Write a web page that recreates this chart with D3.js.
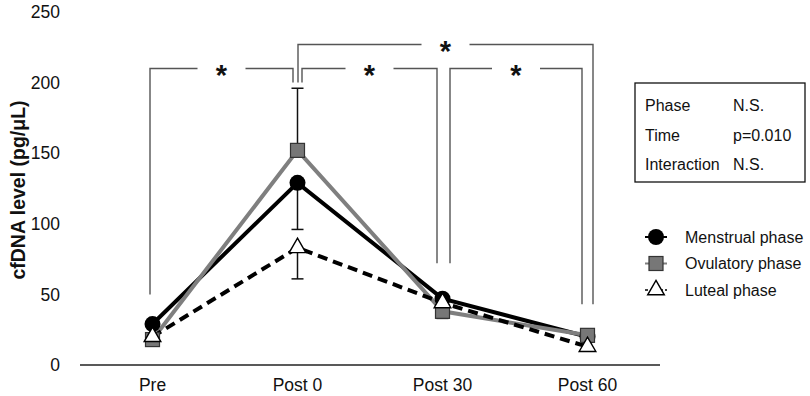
<!DOCTYPE html>
<html><head><meta charset="utf-8">
<script src="https://cdn.jsdelivr.net/npm/d3@7"></script>
<style>body{margin:0;background:#fff}svg{display:block;font-family:"Liberation Sans",Arial,sans-serif}</style>
</head><body><svg id="c" width="810" height="396"></svg>
<script>
const categories = ["Pre", "Post 0", "Post 30", "Post 60"];
const yTicks = [0, 50, 100, 150, 200, 250];
const menstrual = [29, 129, 47, 20];
const ovulatory = [18, 152, 38, 21];
const luteal = [20, 83, 44, 13];
// one-sided error bars (positive = upward, negative = downward)
const menstrualErr = [0, -33, 0, 0];
const ovulatoryErr = [0, 44, -5, 0];
const lutealErr = [0, -22, 0, 0];
const seriesNames = ["Menstrual phase", "Ovulatory phase", "Luteal phase"];
const statsRows = [["Phase", "N.S."], ["Time", "p=0.010"], ["Interaction", "N.S."]];
// brackets: [from index, to index, bracket level value, left leg end value, right leg end value]
const brackets = [
  [0, 1, 210, 50, 200],
  [1, 2, 210, 200, 72],
  [1, 3, 227, 200, 43],
  [2, 3, 210, 72, 43]
];

const svg = d3.select("#c");
const x = d3.scaleBand().domain(categories).range([80, 660]).padding(0);
const y = d3.scaleLinear().domain([0, 250]).range([365, 12]);
const cx = c => x(c) + x.bandwidth() / 2;

// x axis line
svg.append("line").attr("x1", 80).attr("x2", 660).attr("y1", y(0)).attr("y2", y(0))
  .attr("stroke", "#222").attr("stroke-width", 1.5);
svg.selectAll(".xl").data(categories).enter().append("text")
  .attr("x", d => cx(d)).attr("y", 391).attr("text-anchor", "middle")
  .attr("font-size", 17.5).attr("fill", "#111").text(d => d);
svg.selectAll(".yl").data(yTicks).enter().append("text")
  .attr("x", 60).attr("y", d => y(d)).attr("dy", "0.35em").attr("text-anchor", "end")
  .attr("font-size", 17.5).attr("fill", "#111").text(d => d);
svg.append("text").attr("transform", "translate(25,190) rotate(-90)")
  .attr("text-anchor", "middle").attr("font-size", 19.5).attr("font-weight", "bold")
  .attr("fill", "#111").text("cfDNA level (pg/μL)");

// brackets
const offs = [[-2.5, -4.5], [4.5, -5.5], [0.5, 5.5], [7.5, -5.5]];
brackets.forEach((b, i) => {
  const x1 = cx(categories[b[0]]) + offs[i][0], x2 = cx(categories[b[1]]) + offs[i][1];
  const yl = y(b[2]);
  const mid = (x1 + x2) / 2;
  const g = svg.append("g").attr("stroke", "#555").attr("stroke-width", 1.4).attr("fill", "none");
  g.append("path").attr("d", `M${x1},${y(b[3])}V${yl}H${mid - 24}`);
  g.append("path").attr("d", `M${mid + 24},${yl}H${x2}V${y(b[4])}`);
  svg.append("text").attr("x", mid).attr("y", yl + 17).attr("text-anchor", "middle")
    .attr("font-size", 29).attr("font-weight", "bold").attr("fill", "#111").text("*");
});

// error bars
function errBars(vals, errs) {
  vals.forEach((v, i) => {
    if (!errs[i]) return;
    const X = cx(categories[i]);
    svg.append("line").attr("x1", X).attr("x2", X).attr("y1", y(v)).attr("y2", y(v + errs[i]))
      .attr("stroke", "#111").attr("stroke-width", 1.5);
    svg.append("line").attr("x1", X - 6).attr("x2", X + 6).attr("y1", y(v + errs[i])).attr("y2", y(v + errs[i]))
      .attr("stroke", "#111").attr("stroke-width", 1.5);
  });
}
errBars(ovulatory, ovulatoryErr);
errBars(menstrual, menstrualErr);
errBars(luteal, lutealErr);

const line = d3.line().x((d, i) => cx(categories[i])).y(d => y(d));
svg.append("path").datum(menstrual).attr("d", line).attr("fill", "none").attr("stroke", "#000").attr("stroke-width", 4);
svg.append("path").datum(ovulatory).attr("d", line).attr("fill", "none").attr("stroke", "#7f7f7f").attr("stroke-width", 4);
svg.append("path").datum(luteal).attr("d", line).attr("fill", "none").attr("stroke", "#000").attr("stroke-width", 4).attr("stroke-dasharray", "10,6");

const tri = d3.symbol().type(d3.symbolTriangle).size(120);
function circ(g, X, Y) { g.append("circle").attr("cx", X).attr("cy", Y).attr("r", 8).attr("fill", "#000"); }
function sq(g, X, Y) { g.append("rect").attr("x", X - 7).attr("y", Y - 7).attr("width", 14).attr("height", 14).attr("fill", "#777").attr("stroke", "#333").attr("stroke-width", 1.2); }
function tr(g, X, Y) { g.append("path").attr("d", tri()).attr("transform", `translate(${X},${Y})`).attr("fill", "#fff").attr("stroke", "#000").attr("stroke-width", 1.4); }
menstrual.forEach((v, i) => circ(svg, cx(categories[i]), y(v)));
ovulatory.forEach((v, i) => sq(svg, cx(categories[i]), y(v)));
luteal.forEach((v, i) => tr(svg, cx(categories[i]), y(v)));

// stats box
svg.append("rect").attr("x", 635).attr("y", 83).attr("width", 170).attr("height", 99)
  .attr("fill", "#fff").attr("stroke", "#111").attr("stroke-width", 1.3);
statsRows.forEach((r, i) => {
  svg.append("text").attr("x", 645).attr("y", 111 + i * 29.5).attr("font-size", 16).attr("fill", "#111").text(r[0]);
  svg.append("text").attr("x", 733).attr("y", 111 + i * 29.5).attr("font-size", 16).attr("fill", "#111").text(r[1]);
});

// legend
const markers = [circ, sq, tr];
seriesNames.forEach((n, i) => {
  const Y = 237 + i * 26.5;
  const l = svg.append("line").attr("x1", 645).attr("x2", 667).attr("y1", Y).attr("y2", Y)
    .attr("stroke", i === 1 ? "#7f7f7f" : "#000").attr("stroke-width", i === 2 ? 1.5 : 2);
  if (i === 2) l.attr("stroke-dasharray", "3,2");
  markers[i](svg, 656, Y);
  svg.append("text").attr("x", 685).attr("y", Y).attr("dy", "0.35em").attr("font-size", 16).attr("fill", "#111").text(n);
});
</script></body></html>
